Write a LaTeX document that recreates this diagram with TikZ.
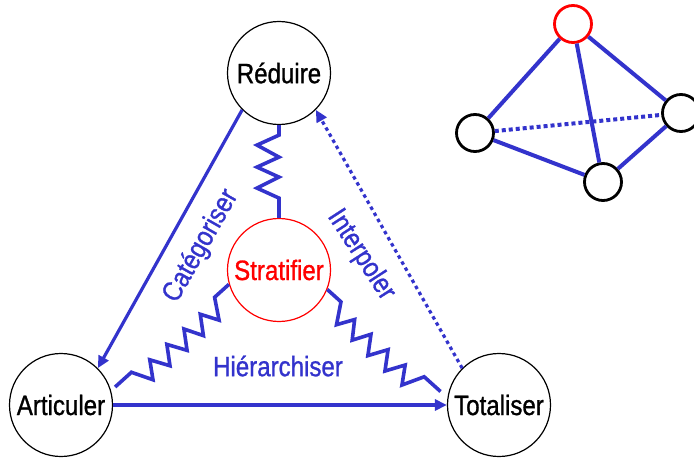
\documentclass[tikz,border=0pt]{standalone}
\usepackage{fontspec}
\setmainfont[FakeStretch=0.86,FakeBold=1]{Liberation Sans}
\usetikzlibrary{calc,arrows.meta}
\definecolor{myblue}{RGB}{51,51,204}
\definecolor{myred}{RGB}{255,0,0}
\newcommand\zzpath[4]{\draw[zz] (#1) \foreach \zs/\zo in {#4} { -- ($(#1)!\zs pt!(#2)!\zo pt!#3:(#2)$) } -- (#2);}
\begin{document}
\begin{tikzpicture}[x=1pt,y=1pt,
  big/.style={circle, draw=black, line width=1.2pt, minimum size=103pt, inner sep=0pt, fill=white, font=\fontsize{28}{32}\selectfont},
  small/.style={circle, draw=black, line width=2.8pt, minimum size=37pt, inner sep=0pt, fill=white},
  lab/.style={text=myblue, font=\fontsize{28}{32}\selectfont, inner sep=0pt},
  arr/.style={draw=myblue, line width=3.2pt, -{Triangle[length=12pt,width=11pt]}},
  zz/.style={draw=myblue, line width=3.6pt, line join=miter},
  tedge/.style={draw=myblue, line width=4pt},
]
\useasboundingbox (0,0) rectangle (694,-460);
% main nodes
\node[big] (red) at (279,-73) {Réduire};
\node[big] (art) at (61,-405) {Articuler};
\node[big] (tot) at (499,-405) {Totaliser};
\node[big, draw=myred, text=myred] (str) at (279,-270) {Stratifier};
% zigzag end points
\coordinate (zla) at ($(art)+(18.4:57)$);
\coordinate (zra) at ($(tot)+(167:60)$);
% zigzags
\zzpath{red.south}{str.north}{-90}{10/0,20/22,32/0,42/22,52/0,63/22,73/0}
\zzpath{zla}{str.196}{-90}{22/0,33/20,44/3,55/21,67/3,78/21,90/3,100/21,112/3,122/20,134/0}
\zzpath{zra}{str.-22}{90}{22/0,33/21,44/4,55/22,67/4,78/22,90/4,100/21,112/4,122/20,134/0}
% arrows
\draw[arr] (red.225) -- (art.45);
\draw[arr] (art.east) -- (tot.west);
\draw[arr, dash pattern=on 3.5pt off 3.5pt] (tot.135) -- (red.315);
% labels
\node[lab, rotate=60.5] (cat) at (201,-246) {Catégoriser};
\node[lab, rotate=-57] (int) at (361,-255) {Interpoler};
\node[lab] (hie) at (278,-366) {Hiérarchiser};
% tetrahedron
\node[small, draw=myred] (tt) at (573,-24) {};
\node[small] (tl) at (475,-133) {};
\node[small] (tr) at (681,-113) {};
\node[small] (tb) at (603,-182) {};
\draw[tedge] (tt) -- (tl);
\draw[tedge] (tt) -- (tr);
\draw[tedge] (tt) -- (tb);
\draw[tedge] (tl) -- (tb);
\draw[tedge] (tr) -- (tb);
\draw[tedge, dash pattern=on 4pt off 3pt] (tl) -- (tr);
\end{tikzpicture}
\end{document}
